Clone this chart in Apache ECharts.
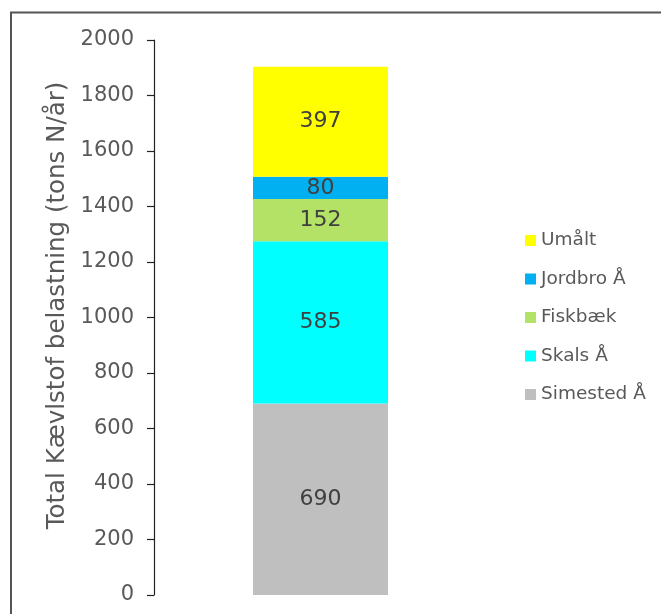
<!DOCTYPE html>
<html><head><meta charset="utf-8">
<script src="https://cdn.jsdelivr.net/npm/echarts@6/dist/echarts.min.js"></script>
<style>html,body{margin:0;padding:0;background:#fff}#c{width:661px;height:614px}</style>
</head><body><div id="c"></div>
<script>
const categories = [''];
const seriesNames = ['Simested Å', 'Skals Å', 'Fiskbæk', 'Jordbro Å', 'Umålt'];
const simested = [690];
const skals = [585];
const fiskbaek = [152];
const jordbro = [80];
const umaalt = [397];
const colors = ['#BFBFBF', '#00FFFF', '#B4E266', '#00B0F0', '#FFFF00'];
const yTicks = { min: 0, max: 2000, interval: 200 };
const yName = 'Total Kævlstof belastning (tons N/år)';

const values = [simested, skals, fiskbaek, jordbro, umaalt];
const font = '"DejaVu Sans", sans-serif';
const chart = echarts.init(document.getElementById('c'), null, { renderer: 'canvas' });
chart.setOption({
  animation: false,
  graphic: [{
    type: 'rect', shape: { x: 11, y: 12.5, width: 700, height: 700 },
    style: { fill: 'none', stroke: '#555', lineWidth: 2 }, z: 100
  }],
  grid: { left: 154, top: 40, right: 174, bottom: 19 },
  legend: {
    orient: 'vertical', left: 520, top: 226, itemGap: 19.5,
    itemWidth: 11, itemHeight: 11, icon: 'rect', itemStyle: { borderWidth: 0 },
    data: seriesNames.slice().reverse(),
    textStyle: { color: '#595959', fontSize: 18.5, fontFamily: font }
  },
  xAxis: {
    type: 'category', data: categories,
    axisLine: { show: false }, axisTick: { show: false }, axisLabel: { show: false }
  },
  yAxis: {
    type: 'value', min: yTicks.min, max: yTicks.max, interval: yTicks.interval,
    name: yName, nameLocation: 'middle', nameGap: 84, nameRotate: 90,
    nameTextStyle: { color: '#595959', fontSize: 24.5, fontFamily: font, padding: [0, 0, 0, 24] },
    axisLine: { show: true, lineStyle: { color: '#222', width: 1.2 } },
    axisTick: { show: true, length: 7, lineStyle: { color: '#222', width: 1.2 } },
    axisLabel: { color: '#595959', fontSize: 21, fontFamily: font, margin: 20, formatter: v => String(v) },
    splitLine: { show: false }
  },
  series: seriesNames.map((n, i) => ({
    name: n, type: 'bar', stack: 'total', barWidth: 135,
    data: values[i],
    itemStyle: { color: colors[i] },
    label: { show: true, position: 'inside', color: '#404040', fontSize: 22, fontFamily: font }
  }))
});
</script></body></html>
